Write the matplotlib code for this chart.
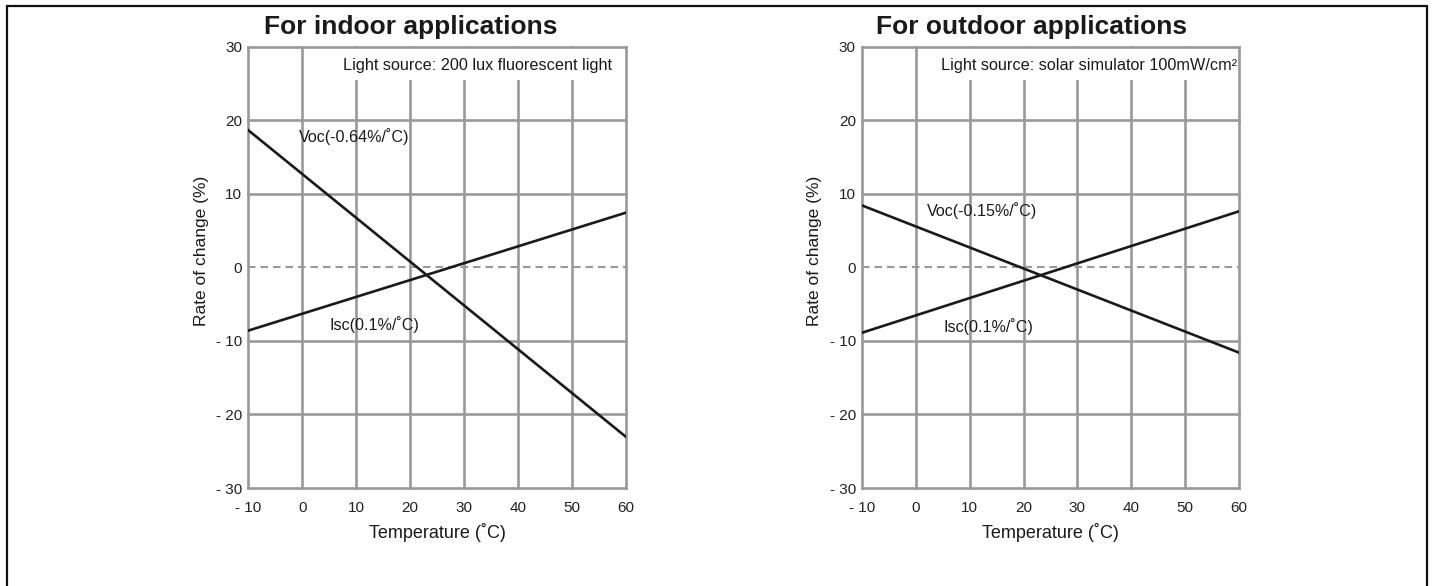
import matplotlib
matplotlib.use("Agg")
import matplotlib.pyplot as plt
from matplotlib.patches import Rectangle

plt.rcParams['font.family'] = ['Liberation Sans', 'DejaVu Sans']

# data
temps = [-10, 60]
voc_indoor = [18.6, -23.0]
isc_indoor = [-8.6, 7.4]
voc_outdoor = [8.4, -11.6]
isc_outdoor = [-8.9, 7.6]

x_ticks = [-10, 0, 10, 20, 30, 40, 50, 60]
y_ticks = [-30, -20, -10, 0, 10, 20, 30]
x_labels = ['- 10', '0', '10', '20', '30', '40', '50', '60']
y_labels = ['- 30', '- 20', '- 10', '0', '10', '20', '30']

titles = ['For indoor applications', 'For outdoor applications']
sources = ['Light source: 200 lux fluorescent light',
           'Light source: solar simulator 100mW/cm\u00b2']
voc_names = ['Voc(-0.64%/\u02daC)', 'Voc(-0.15%/\u02daC)']
isc_names = ['Isc(0.1%/\u02daC)', 'Isc(0.1%/\u02daC)']

GRID = '#999999'
INK = '#1a1a1a'

fig = plt.figure(figsize=(14.32, 5.86), dpi=100)

panels = [
    dict(left=248.5, voc=voc_indoor, isc=isc_indoor, title_x=0.43, src_right=0.964,
         src_left=0.245, voc_pos=(-0.6, 17.8), isc_pos=(5.0, -7.8)),
    dict(left=862.0, voc=voc_outdoor, isc=isc_outdoor, title_x=0.45, src_right=0.995,
         src_left=0.16, voc_pos=(2.0, 7.7), isc_pos=(5.2, -8.1)),
]

W, H = 1432.0, 586.0
for i, p in enumerate(panels):
    ax = fig.add_axes([p['left'] / W, 1 - 488 / H, 377 / W, 441.5 / H])
    ax.set_xlim(x_ticks[0], x_ticks[-1])
    ax.set_ylim(y_ticks[0], y_ticks[-1])
    for s in ax.spines.values():
        s.set_visible(False)

    # grid: inner lines under the white label box, outer frame above it
    for xv in x_ticks:
        z = 3 if xv in (x_ticks[0], x_ticks[-1]) else 1
        ax.axvline(xv, color=GRID, lw=1.9, zorder=z, clip_on=False,
                   solid_capstyle='projecting')
    for yv in y_ticks:
        if yv == 0:
            ax.axhline(yv, color=GRID, lw=1.5, ls=(0, (3.6, 2.4)), zorder=1)
        else:
            z = 3 if yv in (y_ticks[0], y_ticks[-1]) else 1
            ax.axhline(yv, color=GRID, lw=1.9, zorder=z, clip_on=False,
                       solid_capstyle='projecting')

    ax.add_patch(Rectangle((p['src_left'], 0.924), 1 - p['src_left'], 0.076,
                           transform=ax.transAxes, facecolor='white',
                           edgecolor='none', zorder=2))
    ax.text(p['src_right'], 0.958, sources[i], transform=ax.transAxes,
            ha='right', va='center', fontsize=11.7, color=INK, zorder=4)

    ax.plot(temps, p['voc'], color=INK, lw=1.9, zorder=5)
    ax.plot(temps, p['isc'], color=INK, lw=1.9, zorder=5)
    ax.text(p['voc_pos'][0], p['voc_pos'][1], voc_names[i], ha='left', va='center',
            fontsize=11.6, color=INK, zorder=6)
    ax.text(p['isc_pos'][0], p['isc_pos'][1], isc_names[i], ha='left', va='center',
            fontsize=11.6, color=INK, zorder=6)

    ax.set_xticks(x_ticks)
    ax.set_xticklabels(x_labels)
    ax.set_yticks(y_ticks)
    ax.set_yticklabels(y_labels)
    ax.tick_params(axis='both', length=0, labelsize=11, labelcolor='#222222')
    ax.tick_params(axis='x', pad=9)
    ax.tick_params(axis='y', pad=4.5)

    ax.text(0.5, -0.1, 'Temperature (\u02daC)', transform=ax.transAxes,
            ha='center', va='center', fontsize=13, color=INK)
    ax.text(-0.125, 0.537, 'Rate of change (%)', transform=ax.transAxes,
            ha='center', va='center', rotation=90, fontsize=12.5, color=INK)
    ax.text(p['title_x'], 1.0276, titles[i], transform=ax.transAxes,
            ha='center', va='baseline', fontsize=19, fontweight='bold', color=INK)

# outer frame of the picture
fig.add_artist(Rectangle((6.5 / W, -0.1), (1427 - 6.5) / W, 1.1 - 5.5 / H,
                         transform=fig.transFigure, facecolor='none',
                         edgecolor='#111111', lw=1.6))

fig.savefig('out.png', dpi=100)
